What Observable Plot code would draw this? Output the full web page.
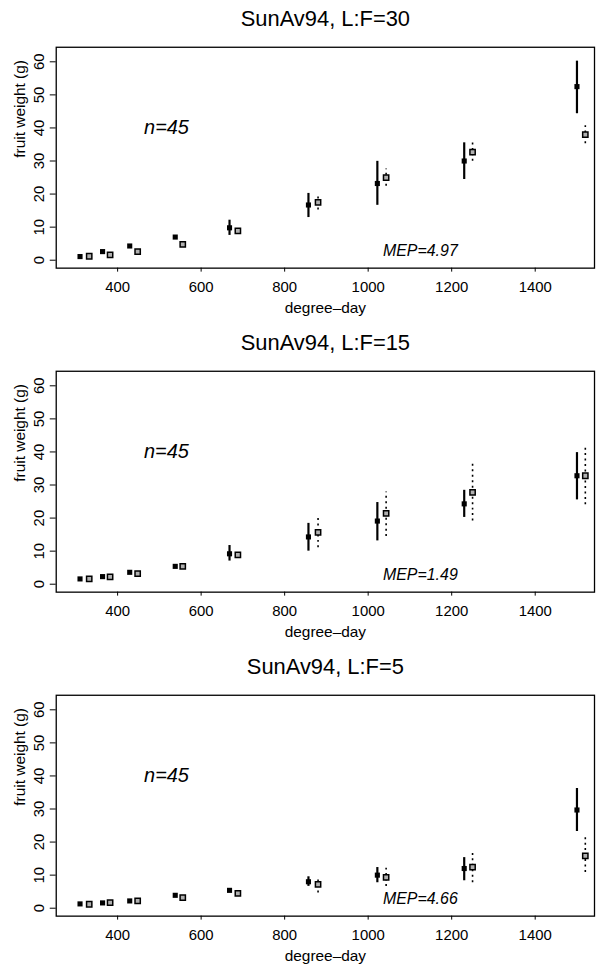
<!DOCTYPE html>
<html><head><meta charset="utf-8">
<script src="https://cdn.jsdelivr.net/npm/d3@7"></script>
<script src="https://cdn.jsdelivr.net/npm/@observablehq/plot@0.6"></script>
<style>
html,body{margin:0;padding:0;background:#fff;overflow:hidden;width:597px;height:973px;}
#chart{width:597px;overflow:hidden;}
#chart svg{display:block;overflow:visible;}
</style></head><body><div id="chart"></div>
<script>
// ---- data ----
const cultivar = "SunAv94";
const lfRatios = [30, 15, 5];
const nValues = [45, 45, 45];
const mepValues = [4.97, 1.49, 4.66];
const xTicks = [400, 600, 800, 1000, 1200, 1400];
const yTicks = [0, 10, 20, 30, 40, 50, 60];

// degree-day positions of observed (filled) and predicted (open) points
const obsDD  = [310, 364, 429, 538, 668, 857, 1022, 1230, 1500];
const predDD = [332, 382, 448, 556, 688, 880, 1043, 1250, 1520];

// L:F=30
const obs30   = [1.1, 2.6, 4.3, 7.0, 9.8, 16.7, 23.2, 30.0, 52.5];
const obs30Lo = [null, null, null, null, 7.5, 12.9, 16.6, 24.4, 44.3];
const obs30Hi = [null, null, null, null, 12.1, 20.2, 29.9, 35.5, 60.2];
const pred30   = [1.2, 1.6, 2.6, 4.8, 8.9, 17.5, 25.0, 32.7, 38.0];
const pred30Lo = [null, null, null, null, null, 15.2, 22.4, 29.9, 35.2];
const pred30Hi = [null, null, null, null, null, 19.9, 27.6, 35.5, 40.7];

// L:F=15
const obs15   = [1.6, 2.3, 3.6, 5.4, 9.2, 14.3, 19.1, 24.3, 32.8];
const obs15Lo = [null, null, null, null, 7.0, 10.0, 13.1, 20.2, 25.5];
const obs15Hi = [null, null, null, null, 11.7, 18.4, 24.7, 28.4, 39.8];
const pred15   = [1.6, 2.2, 3.2, 5.4, 8.9, 15.7, 21.4, 27.8, 32.8];
const pred15Lo = [null, null, null, null, null, 11.0, 14.4, 19.1, 24.0];
const pred15Hi = [null, null, null, null, null, 20.0, 27.9, 36.3, 41.6];

// L:F=5
const obs5   = [1.3, 1.6, 2.2, 3.9, 5.4, 8.0, 10.0, 12.0, 29.7];
const obs5Lo = [null, null, null, null, null, 6.6, 7.7, 8.3, 23.2];
const obs5Hi = [null, null, null, null, null, 9.5, 12.3, 15.3, 36.2];
const pred5   = [1.2, 1.7, 2.2, 3.2, 4.5, 7.2, 9.3, 12.4, 15.8];
const pred5Lo = [null, null, null, null, null, 4.6, 6.6, 7.7, 10.8];
const pred5Hi = [null, null, null, null, null, 9.5, 12.1, 17.6, 22.0];

// annotation anchor (data coordinates)
const nLabelAt = {x: 517, y: 40};
const mepLabelAt = {x: 1125, y: 2.7};

const panels = [
  {lf: lfRatios[0], n: nValues[0], mep: mepValues[0], obs: obs30, obsLo: obs30Lo, obsHi: obs30Hi, pred: pred30, predLo: pred30Lo, predHi: pred30Hi, height: 326},
  {lf: lfRatios[1], n: nValues[1], mep: mepValues[1], obs: obs15, obsLo: obs15Lo, obsHi: obs15Hi, pred: pred15, predLo: pred15Lo, predHi: pred15Hi, height: 325},
  {lf: lfRatios[2], n: nValues[2], mep: mepValues[2], obs: obs5, obsLo: obs5Lo, obsHi: obs5Hi, pred: pred5, predLo: pred5Lo, predHi: pred5Hi, height: 322}
];

const FONT = "'Liberation Sans', Arial, Helvetica, sans-serif";
const chart = document.getElementById("chart");

for (const p of panels) {
  const obsRows = obsDD.map((x, i) => ({x, y: p.obs[i], lo: p.obsLo[i], hi: p.obsHi[i]}));
  const predRows = predDD.map((x, i) => ({x, y: p.pred[i], lo: p.predLo[i], hi: p.predHi[i]}));
  const fig = Plot.plot({
    width: 600,
    height: p.height,
    marginLeft: 56,
    marginRight: 3,
    marginTop: 47,
    marginBottom: p.height - 269,
    style: {fontFamily: FONT, fontSize: "15px", color: "black", background: "white", overflow: "visible"},
    x: {domain: [253, 1542], ticks: xTicks, tickFormat: d3.format("d"), tickSize: 4, tickPadding: 9, label: null},
    y: {domain: [-2.4, 64.4], ticks: yTicks, tickFormat: d3.format("d"), tickSize: 6, tickPadding: 6, tickRotate: -90, label: null},
    marks: [
      Plot.frame({stroke: "black", strokeWidth: 1.3}),
      Plot.ruleX(obsRows.filter(d => d.lo != null), {x: "x", y1: "lo", y2: "hi", stroke: "black", strokeWidth: 2.2}),
      Plot.ruleX(predRows.filter(d => d.lo != null), {x: "x", y1: "lo", y2: "hi", stroke: "black", strokeWidth: 1.6, strokeDasharray: "2,3.5"}),
      Plot.dot(obsRows, {x: "x", y: "y", symbol: "square", r: 2.9, fill: "black", stroke: "none"}),
      Plot.dot(predRows, {x: "x", y: "y", symbol: "square", r: 3.0, fill: "#b0b0b0", stroke: "black", strokeWidth: 1.5}),
      Plot.text([`${cultivar}, L:F=${p.lf}`], {text: d => d, frameAnchor: "top", dy: -21.5, lineAnchor: "bottom", fontSize: 22}),
      Plot.text(["fruit weight (g)"], {text: d => d, frameAnchor: "left", rotate: -90, dx: -31, lineAnchor: "bottom", fontSize: 15.5}),
      Plot.text(["degree\u2013day"], {text: d => d, frameAnchor: "bottom", dy: 45, lineAnchor: "bottom", fontSize: 15.5}),
      Plot.text([`n=${p.n}`], {text: d => d, x: () => nLabelAt.x, y: () => nLabelAt.y, lineAnchor: "middle", fontSize: 20, fontStyle: "italic"}),
      Plot.text([`MEP=${p.mep.toFixed(2)}`], {text: d => d, x: () => mepLabelAt.x, y: () => mepLabelAt.y, lineAnchor: "middle", fontSize: 16, fontStyle: "italic"})
    ]
  });
  chart.appendChild(fig);
}
</script>
</body></html>
